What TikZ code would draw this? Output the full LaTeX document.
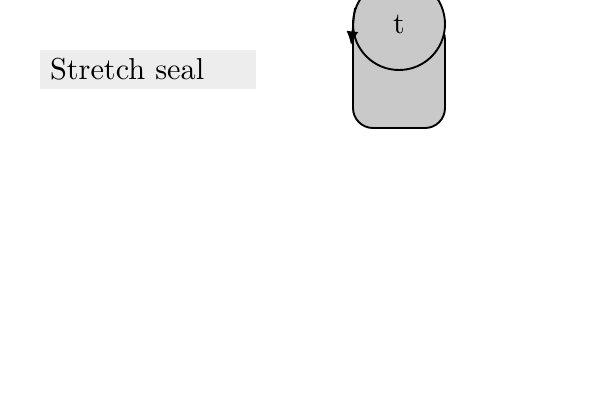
\documentclass[tikz,border=0pt]{standalone}
\usepackage{tikz}
\usetikzlibrary{arrows.meta}

\begin{document}
\begin{tikzpicture}
 [x=1pt, y=-1pt,
  seal node/.style={draw, line width=1.9pt, fill=black!21, rounded corners=20pt, minimum width=92pt, minimum height=108pt, inner sep=0pt},
  top node/.style={circle, draw, line width=1.9pt, fill=black!21, minimum size=92pt, inner sep=0pt},
  label node/.style={fill=black!7, minimum width=216pt, minimum height=39pt, text width=196pt, inner xsep=10pt, align=left}]

\useasboundingbox (0,0) rectangle (600,400);

\node[label node] (lbl) at (148,69.5) {\scalebox{3.03}{Stretch seal}};

\node[seal node] (seal) at (399,74) {};
\node[top node] (t) at (399,24) {\scalebox{3}{t}};

  \coordinate (m) at (351,45);
  \draw[line width=1.6pt, -{Latex[length=8pt, width=7pt, scale=1.7]}] (t.160) -- (m);

\end{tikzpicture}
\end{document}
